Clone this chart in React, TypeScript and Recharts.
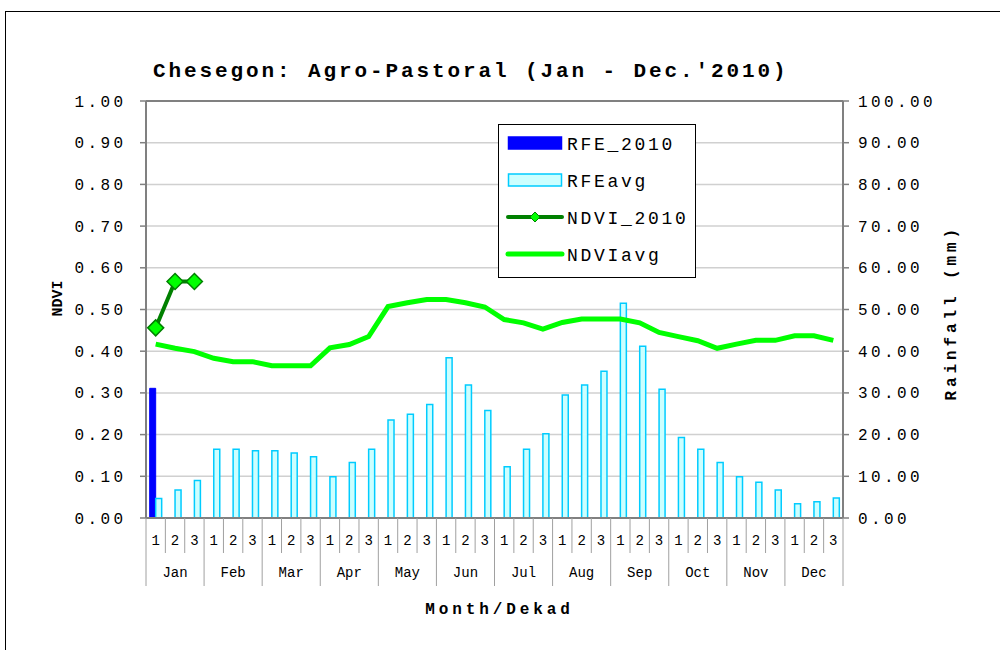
import React from 'react';
import { ComposedChart, Bar, Line, XAxis, YAxis, CartesianGrid, ReferenceLine, Legend } from 'recharts';

const months = ['Jan', 'Feb', 'Mar', 'Apr', 'May', 'Jun', 'Jul', 'Aug', 'Sep', 'Oct', 'Nov', 'Dec'];
const dekads = ['1', '2', '3'];

const rfe2010: (number | null)[] = [31.1, null, null, null, null, null, null, null, null, null, null, null,
  null, null, null, null, null, null, null, null, null, null, null, null,
  null, null, null, null, null, null, null, null, null, null, null, null];

const rfeAvg = [4.7, 6.7, 9.0, 16.5, 16.5, 16.1, 16.1, 15.6, 14.7, 9.9, 13.3, 16.5,
  23.5, 24.9, 27.2, 38.4, 31.9, 25.8, 12.3, 16.5, 20.2, 29.5, 31.9, 35.2,
  51.5, 41.2, 30.9, 19.3, 16.5, 13.3, 9.9, 8.6, 6.7, 3.4, 3.9, 4.8];

const ndvi2010: (number | null)[] = [0.456, 0.567, 0.567, null, null, null, null, null, null, null, null, null,
  null, null, null, null, null, null, null, null, null, null, null, null,
  null, null, null, null, null, null, null, null, null, null, null, null];

const ndviAvg = [0.417, 0.407, 0.399, 0.383, 0.375, 0.375, 0.365, 0.365, 0.365, 0.408, 0.416, 0.435,
  0.507, 0.516, 0.524, 0.524, 0.516, 0.506, 0.476, 0.468, 0.453, 0.469, 0.477, 0.477,
  0.477, 0.468, 0.445, 0.435, 0.425, 0.407, 0.417, 0.426, 0.426, 0.437, 0.437, 0.426];

const ndviTicks = [0, 0.1, 0.2, 0.3, 0.4, 0.5, 0.6, 0.7, 0.8, 0.9, 1.0];
const rainTicks = [0, 10, 20, 30, 40, 50, 60, 70, 80, 90, 100];

const data = months.flatMap((m, mi) =>
  dekads.map((d, di) => {
    const i = mi * 3 + di;
    return {
      key: `${m}-${d}`,
      month: m,
      dekad: d,
      rfe2010: rfe2010[i],
      rfeAvg: rfeAvg[i],
      ndvi2010: ndvi2010[i],
      ndviAvg: ndviAvg[i],
    };
  })
);

const W = 1000;
const H = 650;
const LEFT_W = 146;
const RIGHT_W = 157;
const TOP = 101;
const XAXIS_H = 132;
const SLOT = (W - LEFT_W - RIGHT_W) / data.length;

const FONT = '"Courier New", "Liberation Mono", monospace';
const GRAY = '#808080';

const DekadTick = (props: any) => {
  const { x, y, payload } = props;
  const idx = payload.index;
  const row = data[idx];
  if (!row) return null;
  const left = x - SLOT / 2;
  const right = x + SLOT / 2;
  const last = idx === data.length - 1;
  return (
    <g>
      <line x1={left} x2={left} y1={y} y2={row.dekad === '1' ? y + 68 : y + 35} stroke="#a0a0a0" strokeWidth={1} />
      {last && <line x1={right} x2={right} y1={y} y2={y + 68} stroke="#a0a0a0" strokeWidth={1} />}
      <text x={x} y={y + 26.5} textAnchor="middle" fontFamily={FONT} fontSize={14} fill="#000">{row.dekad}</text>
      {row.dekad === '2' && (
        <text x={x} y={y + 59} textAnchor="middle" fontFamily={FONT} fontSize={14} fill="#000">{row.month}</text>
      )}
    </g>
  );
};

const LeftTick = (props: any) => {
  const { x, y, payload } = props;
  return (
    <text x={x - 63.5} y={y + 5.5} textAnchor="start" fontFamily={FONT} fontSize={16} letterSpacing={3.4} fill="#000">
      {Number(payload.value).toFixed(2)}
    </text>
  );
};

const RightTick = (props: any) => {
  const { x, y, payload } = props;
  return (
    <text x={x + 7} y={y + 5.5} textAnchor="start" fontFamily={FONT} fontSize={16} letterSpacing={3.4} fill="#000">
      {Number(payload.value).toFixed(2)}
    </text>
  );
};

const Diamond = (props: any) => {
  const { cx, cy, value } = props;
  if (value === null || value === undefined || cx == null || cy == null) return <g key={props.key ?? props.index} />;
  const r = 8;
  return (
    <polygon
      key={props.key ?? props.index}
      points={`${cx},${cy - r} ${cx + r},${cy} ${cx},${cy + r} ${cx - r},${cy}`}
      fill="#00ff00"
      stroke="#008000"
      strokeWidth={1.5}
    />
  );
};

const legendItems = [
  { name: 'RFE_2010', kind: 'bar', fill: '#0000ff', stroke: '#0000ff' },
  { name: 'RFEavg', kind: 'bar', fill: '#ccffff', stroke: '#00ccff' },
  { name: 'NDVI_2010', kind: 'lineDot', fill: '#00ff00', stroke: '#008000' },
  { name: 'NDVIavg', kind: 'line', fill: '#00ff00', stroke: '#00ff00' },
];

const LegendBox = () => (
  <div style={{ width: 198, height: 154, border: '1px solid #000', background: '#fff', boxSizing: 'border-box' }}>
    <svg width={196} height={152} style={{ display: 'block' }}>
      {legendItems.map((it, i) => {
        const cy = 18 + i * 37;
        return (
          <g key={it.name}>
            {it.kind === 'bar' && (
              <rect x={9.5} y={cy - 6} width={53} height={12} fill={it.fill} stroke={it.stroke} strokeWidth={1.5} />
            )}
            {it.kind === 'lineDot' && (
              <g>
                <line x1={9} x2={63} y1={cy} y2={cy} stroke={it.stroke} strokeWidth={4} strokeLinecap="round" />
                <polygon points={`${36},${cy - 5} ${41},${cy} ${36},${cy + 5} ${31},${cy}`} fill={it.fill} stroke={it.stroke} strokeWidth={1} />
              </g>
            )}
            {it.kind === 'line' && (
              <line x1={9} x2={63} y1={cy} y2={cy} stroke={it.stroke} strokeWidth={5} strokeLinecap="round" />
            )}
            <text x={68} y={cy + 6.5} fontFamily={FONT} fontSize={18} letterSpacing={2.7} fill="#000">{it.name}</text>
          </g>
        );
      })}
    </svg>
  </div>
);

export default function App() {
  return (
    <div style={{ position: 'absolute', left: 0, top: 0, width: W, height: H, overflow: 'hidden', background: '#fff' }}>
      <div style={{ position: 'absolute', left: 5, top: 11, width: 1100, height: 700, border: '1px solid #000' }} />
      <div style={{ position: 'absolute', left: 0, top: 0 }}>
        <ComposedChart
          width={W}
          height={H}
          data={data}
          margin={{ top: TOP, right: 0, bottom: 0, left: 0 }}
          barGap={0}
          barCategoryGap="19%"
        >
          <CartesianGrid yAxisId="left" horizontal vertical={false} stroke="#d0d0d0" strokeWidth={1.5} />
          <XAxis
            dataKey="key"
            interval={0}
            height={XAXIS_H}
            tickLine={false}
            tickSize={0}
            tickMargin={0}
            tick={<DekadTick />}
            axisLine={{ stroke: GRAY, strokeWidth: 2 }}
            label={(p: any) => {
              const vb = p.viewBox;
              return (
                <text x={vb.x + vb.width / 2 + 5} y={vb.y + 96} textAnchor="middle" fontFamily={FONT} fontWeight="bold" fontSize={16} letterSpacing={3.9} fill="#000">
                  Month/Dekad
                </text>
              );
            }}
          />
          <YAxis
            yAxisId="left"
            orientation="left"
            width={LEFT_W}
            domain={[0, 1]}
            ticks={ndviTicks}
            interval={0}
            tickSize={6}
            tickLine={{ stroke: GRAY, strokeWidth: 1.5 }}
            axisLine={{ stroke: GRAY, strokeWidth: 2 }}
            tick={<LeftTick />}
            label={(p: any) => {
              const vb = p.viewBox;
              const cx = 61.5;
              const cy = vb.y + vb.height / 2 - 11;
              return (
                <text x={cx} y={cy} transform={`rotate(-90 ${cx} ${cy})`} textAnchor="middle" fontFamily={FONT} fontWeight="bold" fontSize={15} fill="#000">
                  NDVI
                </text>
              );
            }}
          />
          <YAxis
            yAxisId="right"
            orientation="right"
            width={RIGHT_W}
            domain={[0, 100]}
            ticks={rainTicks}
            interval={0}
            tickSize={6}
            tickLine={{ stroke: GRAY, strokeWidth: 1.5 }}
            axisLine={{ stroke: GRAY, strokeWidth: 2 }}
            tick={<RightTick />}
            label={(p: any) => {
              const vb = p.viewBox;
              const cx = 956.5;
              const cy = vb.y + vb.height / 2 + 1 + 2.2;
              return (
                <text x={cx} y={cy} transform={`rotate(-90 ${cx} ${cy})`} textAnchor="middle" fontFamily={FONT} fontWeight="bold" fontSize={16} letterSpacing={3.9} fill="#000">
                  Rainfall (mm)
                </text>
              );
            }}
          />
          <ReferenceLine yAxisId="left" y={1} stroke={GRAY} strokeWidth={2} />
          <Bar yAxisId="right" dataKey="rfe2010" name="RFE_2010" fill="#0000ff" stroke="#0000ff" strokeWidth={1} isAnimationActive={false} />
          <Bar yAxisId="right" dataKey="rfeAvg" name="RFEavg" fill="#ccffff" stroke="#00ccff" strokeWidth={1.5} isAnimationActive={false} />
          <Line yAxisId="left" type="linear" dataKey="ndviAvg" name="NDVIavg" stroke="#00ff00" strokeWidth={5} dot={false} activeDot={false} isAnimationActive={false} />
          <Line yAxisId="left" type="linear" dataKey="ndvi2010" name="NDVI_2010" stroke="#008000" strokeWidth={4} dot={(p: any) => <Diamond {...p} />} activeDot={false} isAnimationActive={false} />
          <Legend
            layout="vertical"
            align="center"
            verticalAlign="middle"
            content={() => <LegendBox />}
            wrapperStyle={{ position: 'absolute', left: 498, top: 124, width: 198, height: 154 }}
          />
        </ComposedChart>
      </div>
      <svg width={W} height={90} style={{ position: 'absolute', left: 0, top: 0, pointerEvents: 'none' }}>
        <text x={153} y={77} fontFamily={FONT} fontWeight="bold" fontSize={21} letterSpacing={2.9} fill="#000">
          Chesegon: Agro-Pastoral (Jan - Dec.'2010)
        </text>
      </svg>
    </div>
  );
}
